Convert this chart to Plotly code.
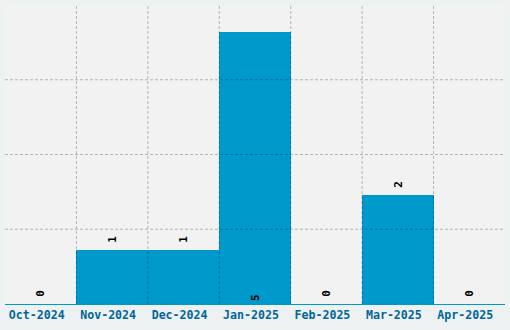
import plotly.graph_objects as go

categories = ["Oct-2024", "Nov-2024", "Dec-2024", "Jan-2025", "Feb-2025", "Mar-2025", "Apr-2025"]
values = [0, 1, 1, 5, 0, 2, 0]
label_positions = ["outside", "outside", "outside", "inside", "outside", "outside", "outside"]

y_max = 5.5
grid_step = y_max / 4

spacer = '<span style="font-size:7px"> </span>'
labels = [(spacer + str(v)) if p == "outside" else str(v) for v, p in zip(values, label_positions)]

fig = go.Figure(go.Bar(
    x=categories,
    y=values,
    marker=dict(color="#0099cc", line=dict(width=0)),
    text=labels,
    textposition=label_positions,
    insidetextanchor="start",
    textangle=-90,
    textfont=dict(family="DejaVu Sans Mono", size=11, color="#000000", weight="bold"),
    cliponaxis=False,
    hoverinfo="skip",
))

shapes = []
for i in range(1, len(categories)):
    shapes.append(dict(type="line", layer="above", xref="x", yref="paper",
                       x0=i - 0.5, x1=i - 0.5, y0=0, y1=1,
                       line=dict(color="rgba(0,0,0,0.25)", width=1, dash="3px,2px")))
k = 1
while k * grid_step < y_max - 1e-9:
    yv = k * grid_step
    shapes.append(dict(type="line", layer="above", xref="paper", yref="y",
                       x0=0, x1=1, y0=yv, y1=yv,
                       line=dict(color="rgba(0,0,0,0.25)", width=1, dash="3px,2px")))
    k += 1

fig.update_layout(
    width=510, height=330,
    margin=dict(l=5, r=5, t=5, b=26),
    paper_bgcolor="#eef1f2",
    plot_bgcolor="#f2f2f2",
    bargap=0,
    showlegend=False,
    shapes=shapes,
    xaxis=dict(showgrid=False, showline=True, linecolor="#0099cc", linewidth=1,
               ticks="", ticklabelshift=-4,
               tickfont=dict(family="DejaVu Sans Mono", size=11.6, color="#006699", weight="bold"),
               zeroline=False),
    yaxis=dict(range=[0, y_max], showgrid=False, showticklabels=False, zeroline=False,
               showline=False, ticks=""),
)

fig.write_html("out.html")
